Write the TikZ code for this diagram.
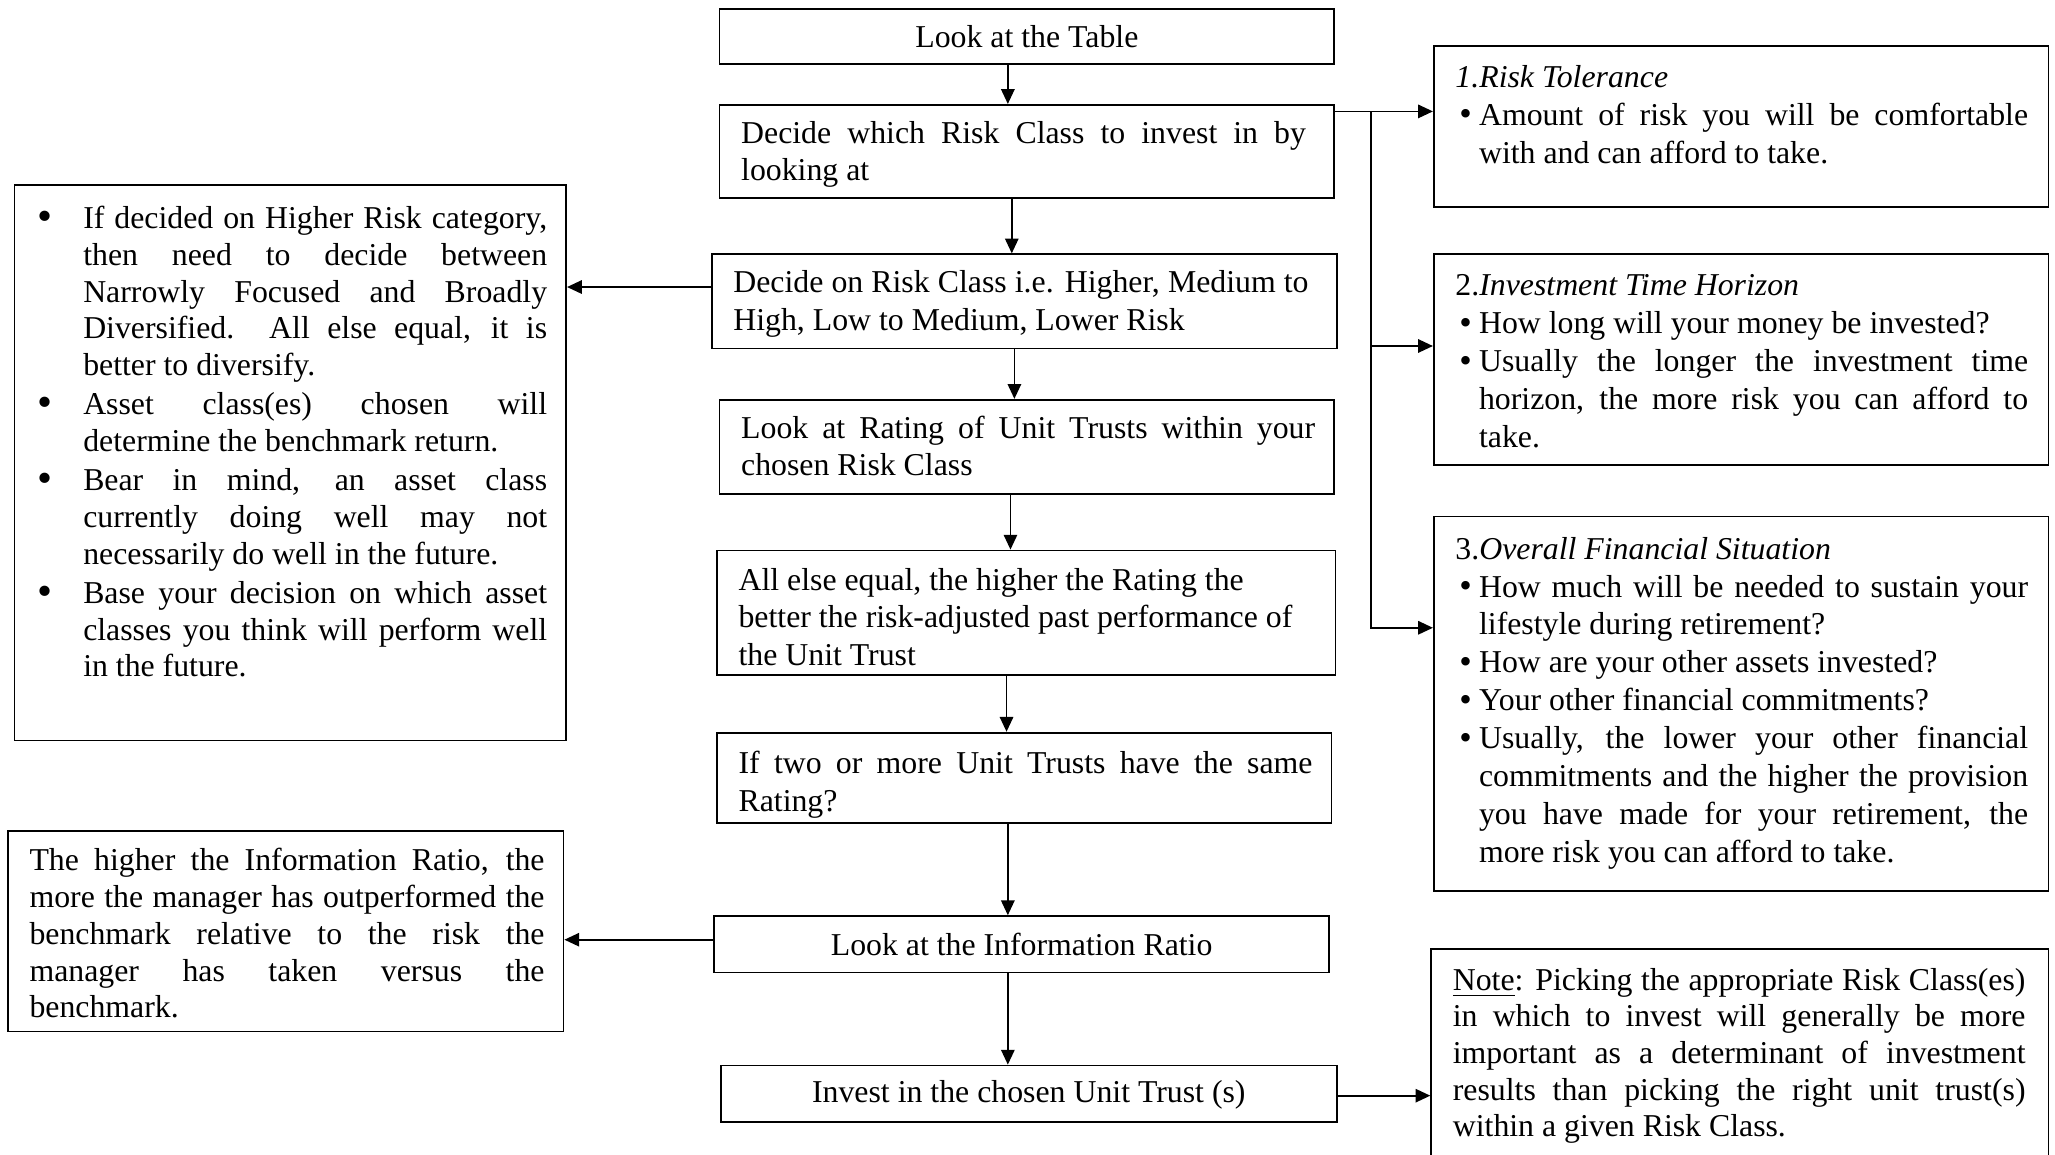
\documentclass[tikz,border=0pt]{standalone}
\usepackage{fontspec}
\setmainfont{Liberation Serif}
\usetikzlibrary{arrows.meta,calc}
\newlength\pxu
\setlength\pxu{0.3729pt}
\newcommand\fA{\fontsize{9.05pt}{10.44pt}\selectfont}
\newcommand\fB{\fontsize{9.05pt}{10.63pt}\selectfont}
\newcommand\fC{\fontsize{9.05pt}{10.81pt}\selectfont}
\newcommand\jline[2]{\makebox[#1\pxu][s]{#2}}
\newcommand\lind{\hspace*{35\pxu}}
\newcommand\lbul{\makebox[35\pxu][l]{\raisebox{-0.6pt}{\scalebox{1.35}{\textbullet}}}}
\newcommand\rind{\hspace*{18\pxu}}
\newcommand\rbul{\hspace*{3\pxu}\makebox[15\pxu][l]{\raisebox{-0.2pt}{\scalebox{1.12}{\textbullet}}}}
\tikzset{
  box/.style={draw, line width=0.5pt, inner sep=0pt, rectangle, font=\fA},
  txt/.style={anchor=north west, inner sep=0pt, align=left, yshift=-2*0.013106cm},
  arr/.style={draw, line width=0.5pt, -{Triangle[length=4.2pt,width=3.8pt]}},
  conn/.style={draw, line width=0.5pt}
}
\begin{document}
\begin{tikzpicture}[x=0.013106cm, y=-0.013106cm]
\useasboundingbox (0,0) rectangle (1568,881);
\fill[white] (0,0) rectangle (1568,881);
\clip (0,0) rectangle (1568,881);

% central column
\node[box, minimum width=469\pxu, minimum height=42\pxu] (b1) at (783.5,28) {Look at the Table};
\node[box, minimum width=469\pxu, minimum height=71\pxu] (b2) at (783.5,115.5) {};
\node[box, minimum width=477\pxu, minimum height=72\pxu] (b3) at (781.5,230) {};
\node[box, minimum width=469\pxu, minimum height=72\pxu] (b4) at (783.5,341) {};
\node[box, minimum width=472\pxu, minimum height=95\pxu] (b5) at (783,467.5) {};
\node[box, minimum width=469\pxu, minimum height=69\pxu] (b6) at (781.5,593.5) {};
\node[box, minimum width=469\pxu, minimum height=43\pxu] (b7) at (779.5,720.5) {Look at the Information Ratio};
\node[box, minimum width=470\pxu, minimum height=43\pxu, text depth=1.2pt] (b8) at (785,834.5) {Invest in the chosen Unit Trust (s)};

% side boxes
\node[box, minimum width=421\pxu, minimum height=424\pxu] (l1) at (221.5,353) {};
\node[box, minimum width=424\pxu, minimum height=153\pxu] (l2) at (218,710.5) {};
\node[box, minimum width=469\pxu, minimum height=123\pxu] (r1) at (1328.5,96.5) {};
\node[box, minimum width=469\pxu, minimum height=161\pxu] (r2) at (1328.5,274.5) {};
\node[box, minimum width=469\pxu, minimum height=286\pxu] (r3) at (1328.5,537) {};
\node[box, minimum width=471\pxu, minimum height=176\pxu] (r4) at (1327.5,812) {};

% texts of central boxes
\node[txt, font=\fB] (t2) at (565,87.05) {\strut\jline{431}{Decide which Risk Class to invest in by}\\looking at};
\node[txt, font=\fB] (t3) at (559,201.05) {\strut\jline{439}{Decide on Risk Class i.e. Higher, Medium to}\\High, Low to Medium, Lower Risk};
\node[txt, font=\fB] (t4) at (565,312.05) {\strut\jline{438}{Look at Rating of Unit Trusts within your}\\chosen Risk Class};
\node[txt, font=\fB] (t5) at (563,428.05) {\strut All else equal, the higher the Rating the\\better the risk-adjusted past performance of\\the Unit Trust};
\node[txt, font=\fB] (t6) at (563,568.05) {\strut\jline{438}{If two or more Unit Trusts have the same}\\Rating?};

% left texts
\node[txt, font=\fA] (tl1) at (28,152.4) {\strut\lbul\jline{354}{If decided on Higher Risk category,}\\
\lind\jline{354}{then need to decide between}\\
\lind\jline{354}{Narrowly Focused and Broadly}\\
\lind\jline{354}{Diversified.\ \ All else equal, it is}\\
\lind better to diversify.\\[0.75pt]
\lbul\jline{354}{Asset class(es) chosen will}\\
\lind determine the benchmark return.\\[0.75pt]
\lbul\jline{354}{Bear in mind, an asset class}\\
\lind\jline{354}{currently doing well may not}\\
\lind necessarily do well in the future.\\[0.75pt]
\lbul\jline{354}{Base your decision on which asset}\\
\lind\jline{354}{classes you think will perform well}\\
\lind in the future.};
\node[txt, font=\fA] (tl2) at (22,642.4) {\strut\jline{393}{The higher the Information Ratio, the}\\
\jline{393}{more the manager has outperformed the}\\
\jline{393}{benchmark relative to the risk the}\\
\jline{393}{manager has taken versus the}\\
benchmark.};

% right texts
\node[txt, font=\fC] (tr1) at (1110,43.7) {\strut\textit{1.Risk Tolerance}\\
\rbul\jline{419}{Amount of risk you will be comfortable}\\
\rind with and can afford to take.};
\node[txt, font=\fC] (tr2) at (1110,202.7) {\strut 2.\textit{Investment Time Horizon}\\
\rbul How long will your money be invested?\\
\rbul\jline{419}{Usually the longer the investment time}\\
\rind\jline{419}{horizon, the more risk you can afford to}\\
\rind take.};
\node[txt, font=\fC] (tr3) at (1110,403.7) {\strut 3.\textit{Overall Financial Situation}\\
\rbul\jline{419}{How much will be needed to sustain your}\\
\rind lifestyle during retirement?\\
\rbul How are your other assets invested?\\
\rbul Your other financial commitments?\\
\rbul\jline{419}{Usually, the lower your other financial}\\
\rind\jline{419}{commitments and the higher the provision}\\
\rind\jline{419}{you have made for your retirement, the}\\
\rind more risk you can afford to take.};
\node[txt, font=\fA] (tr4) at (1108,733.4) {\strut\jline{437}{\underline{Note}: Picking the appropriate Risk Class(es)}\\
\jline{437}{in which to invest will generally be more}\\
\jline{437}{important as a determinant of investment}\\
\jline{437}{results than picking the right unit trust(s)}\\
within a given Risk Class.};

% vertical flow arrows
\draw[arr] (769,0 |- b1.south) -- (769,0 |- b2.north);
\draw[arr] (772,0 |- b2.south) -- (772,0 |- b3.north);
\draw[arr] (774,0 |- b3.south) -- (774,0 |- b4.north);
\draw[arr] (771,0 |- b4.south) -- (771,0 |- b5.north);
\draw[arr] (768,0 |- b5.south) -- (768,0 |- b6.north);
\draw[arr] (769,0 |- b6.south) -- (769,0 |- b7.north);
\draw[arr] (769,0 |- b7.south) -- (769,0 |- b8.north);

% side arrows
\draw[arr] (b3.west |- 0,219) -- (l1.east |- 0,219);
\draw[arr] (b7.west |- 0,717) -- (l2.east |- 0,717);
\draw[arr] (b8.east |- 0,836) -- (r4.west |- 0,836);

% branch to the right
\coordinate (jn) at (1046,85);
\draw[arr] (b2.east |- jn) -- (r1.west |- jn);
\draw[arr] (jn) |- (r2.west |- 0,264);
\draw[arr] (jn) |- (r3.west |- 0,479);
\end{tikzpicture}
\end{document}
